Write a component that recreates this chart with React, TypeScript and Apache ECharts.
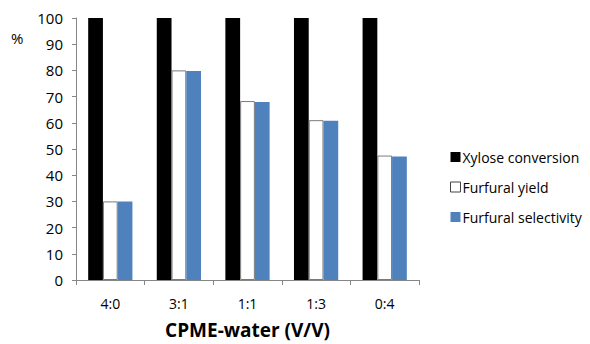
import React, { useEffect, useRef } from "react";
import * as echarts from "echarts";

const categories = ["4:0", "3:1", "1:1", "1:3", "0:4"];
const xyloseConversion = [100, 100, 100, 100, 100];
const furfuralYield = [30, 80, 68.3, 61, 47.5];
const furfuralSelectivity = [30, 79.8, 67.9, 60.8, 47.1];
const yTicks = { min: 0, max: 100, interval: 10 };

const FONT = "'Open Sans', 'Noto Sans', sans-serif";

export default function App() {
  const ref = useRef<HTMLDivElement>(null);
  useEffect(() => {
    if (!ref.current) return;
    const chart = echarts.init(ref.current, null, { renderer: "svg" });
    chart.setOption({
      animation: false,
      backgroundColor: "#ffffff",
      grid: { left: 76, top: 18, right: 171, bottom: 62, containLabel: false },
      legend: {
        orient: "vertical",
        left: 445,
        top: 145,
        itemWidth: 10,
        itemHeight: 10,
        itemGap: 16,
        textStyle: { fontFamily: FONT, fontSize: 14, color: "#000", padding: [0, 0, 0, -3] },
        data: [
          { name: "Xylose conversion", icon: "rect" },
          { name: "Furfural yield", icon: "rect", itemStyle: { color: "#fff", borderColor: "#444", borderWidth: 1 } },
          { name: "Furfural selectivity", icon: "rect" },
        ],
      },
      graphic: [
        {
          type: "text",
          left: 11,
          top: 30,
          style: { text: "%", font: `15px ${FONT}`, fill: "#000" },
        },
      ],
      xAxis: {
        type: "category",
        data: categories,
        name: "CPME-water (V/V)",
        nameLocation: "middle",
        nameGap: 40,
        nameTextStyle: { fontFamily: FONT, fontSize: 19, fontWeight: "bold", color: "#000" },
        axisLine: { lineStyle: { color: "#868686", width: 1 } },
        axisTick: { show: true, length: 5, lineStyle: { color: "#868686" } },
        axisLabel: { fontFamily: FONT, fontSize: 14, color: "#000", margin: 16 },
        splitLine: { show: false },
      },
      yAxis: {
        type: "value",
        min: yTicks.min,
        max: yTicks.max,
        interval: yTicks.interval,
        axisLine: { show: true, lineStyle: { color: "#868686", width: 1 } },
        axisTick: { show: true, length: 4, lineStyle: { color: "#868686" } },
        axisLabel: { fontFamily: FONT, fontSize: 15, color: "#000", margin: 13 },
        splitLine: { show: false },
      },
      series: [
        {
          name: "Xylose conversion",
          type: "bar",
          data: xyloseConversion,
          barWidth: "21.5%",
          barGap: "0%",
          itemStyle: { color: "#000000" },
        },
        {
          name: "Furfural yield",
          type: "bar",
          data: furfuralYield,
          barWidth: "21.5%",
          barGap: "0%",
          itemStyle: { color: "#ffffff", borderColor: "#7a7a7a", borderWidth: 1 },
        },
        {
          name: "Furfural selectivity",
          type: "bar",
          data: furfuralSelectivity,
          barWidth: "21.5%",
          barGap: "0%",
          itemStyle: { color: "#4f81bd" },
        },
      ],
    });
    return () => chart.dispose();
  }, []);
  return <div ref={ref} style={{ width: 590, height: 344, position: "absolute", left: 0, top: 0 }} />;
}
